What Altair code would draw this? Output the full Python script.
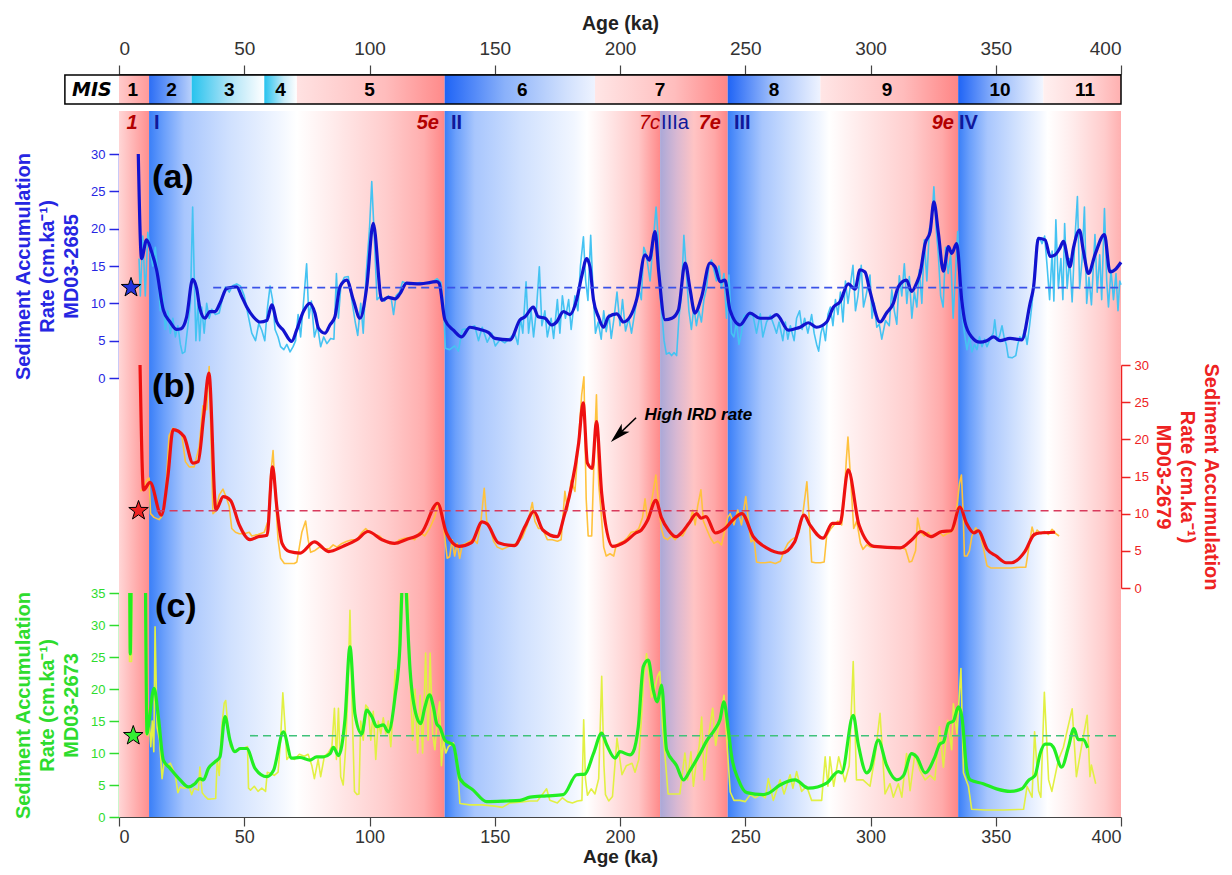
import math
import altair as alt
import pandas as pd

# ---------------- layout constants (plot area in px) ----------------
W, H = 1002, 743

# ---------------- data ----------------
AGE_TICKS = list(range(0, 401, 50))

MIS_NAMES = ["1", "2", "3", "4", "5", "6", "7", "8", "9", "10", "11"]
MIS_START = [0, 12, 29, 58, 71, 130, 190, 243, 280, 335, 369]
MIS_END = [12, 29, 58, 71, 130, 190, 243, 280, 335, 369, 400]
MIS_LABEL_X = [5.5, 21, 44, 64.5, 100, 161, 216, 261.5, 306.6, 351.7, 385.6]

BAND_START = [0, 12, 130, 216, 243, 335]
BAND_END = [12, 130, 216, 243, 335, 400]

TERM_LABELS = ["I", "II", "III", "IV"]
TERM_X = [14, 132.5, 245.5, 335.3]
SUB_LABELS = ["5e", "7e", "9e"]
SUB_X = [127.7, 240.3, 333.3]
ONE_LABEL_X = [5.2]
SUB7C_X = [216.0]
IIIA_X = [216.4]

A_MEAN = 12.1
B_MEAN = 10.4
C_MEAN = 12.7
A_MEAN_START, B_MEAN_START, C_MEAN_START = 37.6, 15.0, 52.3
A_STAR = (4.8, 12.1)
B_STAR = (7.8, 10.4)
C_STAR = (5.7, 12.7)

A_DARK = [(7.7,30),(9.0,16.0),(11.0,18.5),(13.0,16.9),(15.0,14.5),(17.7,9.1),(20.4,7.5),(23.0,6.5),(24.8,6.6),(27.0,8.2),(29.4,13.2),(31.0,12.0),(32.3,9.3),(34.3,8.0),(36.3,8.9),(38.3,8.9),(40.3,10.0),(43.0,12.0),(47.0,12.2),(49.0,10.9),(51.0,9.5),(53.6,8.2),(56.3,7.5),(59.0,7.7),(61.0,9.8),(63.0,7.5),(65.6,6.4),(68.9,4.9),(70.9,6.4),(73.6,8.9),(76.2,10.0),(78.2,8.7),(79.6,6.7),(82.2,6.0),(84.2,7.1),(86.2,8.2),(88.2,12.2),(90.9,13.1),(93.6,10.4),(96.2,8.0),(98.9,12.2),(101.5,20.7),(104.9,10.4),(107.5,10.8),(110.2,10.6),(112.2,11.3),(114.8,12.7),(120.2,12.6),(126.8,12.9),(127.8,12.7),(130.1,7.8),(133.5,6.4),(136.8,5.5),(140.1,6.8),(144.1,6.5),(147.4,6.1),(150.1,5.3),(156.1,5.1),(160.1,7.8),(162.1,8.2),(165.4,9.5),(167.4,8.2),(170.1,8.0),(172.7,7.1),(174.7,7.5),(177.4,8.9),(180.0,8.5),(182.7,10.5),(184.7,13.6),(186.7,16.0),(188.0,14.9),(189.4,10.5),(191.4,8.2),(193.4,6.8),(195.4,8.2),(198.7,8.6),(201.4,7.5),(204.0,8.2),(206.7,10.6),(210.0,16.5),(211.7,15.8),(214.0,19.6),(215.4,14.4),(218.0,7.8),(220.7,8.0),(223.3,9.1),(226.0,15.4),(228.0,11.8),(229.9,8.7),(232.6,10.9),(235.9,15.4),(237.9,14.9),(239.9,12.9),(241.9,13.1),(243.9,9.1),(247.9,7.1),(251.9,8.7),(255.9,8.0),(259.9,8.0),(262.5,8.5),(267.2,6.4),(269.9,6.6),(271.9,6.8),(275.2,7.4),(278.5,6.8),(282.5,7.5),(285.2,9.5),(287.8,10.2),(291.1,12.6),(293.8,11.9),(295.8,14.5),(297.8,14.2),(299.8,11.6),(303.8,7.5),(306.4,8.7),(309.1,10.0),(311.1,12.2),(314.4,13.1),(316.4,11.6),(318.4,12.7),(319.8,14.0),(321.8,18.0),(323.8,19.6),(325.3,23.6),(327.1,19.4),(329.1,14.3),(331.1,17.6),(332.4,16.7),(334.4,18.0),(336.4,10.5),(337.7,7.5),(340.4,5.5),(343.7,4.8),(346.4,5.0),(349.1,5.5),(351.7,5.0),(355.7,5.3),(360.4,5.1),(363.7,10.0),(365.1,12.2),(367.0,18.7),(369.7,18.5),(371.7,16.3),(373.7,16.5),(375.6,17.4),(377.0,18.3),(379.6,14.9),(381.0,17.4),(383.4,19.8),(385.0,17.0),(387.0,14.0),(389.6,16.5),(393.4,19.2),(395.6,14.2),(397.6,14.5),(400.0,15.5)]

A_LIGHT = [(8.0,16),(8.5,11),(9.5,19),(10.5,11),(11.5,19.5),(12.5,17),(13.5,15),(14.5,17.5),(15.5,14),(16.5,9),(17.5,11),(18.5,6.5),(19.5,9),(20.5,6),(21.5,8),(22.5,5.5),(23.5,7),(24.5,4.5),(25.3,3.3),(26.3,3.5),(27.5,7),(28.5,10),(29.4,22.9),(30.0,14),(30.7,5),(31.5,10),(32.2,5),(33.0,9.5),(34.0,6),(35.0,10),(36.0,8),(37.0,9.2),(38.5,8.5),(40.0,8.7),(41.2,10.5),(42.5,12.2),(44.0,11.5),(45.5,12.4),(47.0,12.6),(48.5,12.3),(50.0,11),(51.5,8.5),(53.0,6),(54.5,5.0),(55.8,7.3),(57.0,6.4),(58.2,5.0),(59.3,9.5),(60.3,12.3),(61.3,10.5),(62.3,6.5),(63.5,5.5),(64.5,4.2),(65.8,3.8),(67.0,4.5),(68.3,3.5),(69.5,4.2),(70.5,5.0),(71.5,8.5),(72.5,5.5),(73.5,9.5),(74.9,15.3),(75.8,8.0),(76.8,10.3),(78.0,5.5),(79.2,7.0),(80.5,4.2),(81.7,5.5),(83.0,4.6),(84.5,5.3),(85.8,5.2),(86.8,14.0),(87.6,8.0),(88.6,12.5),(90.0,13.5),(91.5,13.6),(93.0,10.3),(94.3,7.5),(95.3,5.7),(96.5,10.0),(97.5,6.0),(98.7,14.0),(100.0,20.0),(100.9,26.3),(101.9,19.0),(103.0,10.5),(104.5,11.0),(106.0,10.3),(107.5,11.0),(108.7,10.6),(109.6,8.5),(110.6,11.0),(112.0,11.5),(113.2,12.9),(116.0,12.5),(120.0,12.8),(124.0,12.6),(127.0,13.3),(128.5,12.8),(129.5,10),(130.3,4.0),(132.0,3.8),(134.0,4.3),(135.5,3.6),(137.0,6.5),(139.0,6.6),(140.5,6.8),(142.0,7.0),(143.5,5.0),(145.0,6.8),(147.0,4.8),(148.8,6.0),(150.2,4.3),(152.0,5.1),(154.0,4.7),(156.0,5.3),(158.0,6.0),(159.2,4.5),(160.3,8.0),(161.2,6.0),(162.5,12.9),(163.5,6.0),(164.5,9.0),(165.5,5.5),(166.6,9.0),(167.8,14.9),(168.8,7.0),(170.0,9.0),(171.0,5.5),(172.5,8.0),(173.5,5.3),(175.0,10.5),(176.0,6.0),(177.0,11.0),(178.2,8.0),(179.5,10.5),(180.5,6.5),(182.0,11.0),(183.2,9.0),(184.2,15.0),(185.4,18.9),(186.3,13.0),(187.2,10.4),(188.3,19.1),(189.2,12.0),(190.2,6.0),(191.3,7.5),(192.5,5.2),(193.5,9.0),(194.5,6.2),(195.6,8.5),(196.5,5.3),(197.6,8.0),(198.8,11.5),(200.0,7.0),(201.0,10.5),(202.2,6.3),(203.5,8.0),(204.6,6.0),(206.0,9.0),(207.5,12.0),(208.5,10.5),(209.5,17.5),(210.5,16.5),(212.0,13.0),(213.2,18.0),(214.4,22.9),(215.2,19.0),(216.0,11.0),(217.0,7.5),(217.6,5.0),(218.5,3.2),(219.6,3.4),(220.6,3.0),(221.6,3.4),(222.6,3.0),(223.5,8.0),(224.5,11.0),(225.5,19.1),(226.5,14.0),(227.5,9.0),(228.5,6.5),(229.5,9.5),(230.5,7.0),(231.5,9.0),(232.5,7.5),(233.5,10.5),(234.5,12.0),(235.5,15.0),(236.5,15.8),(237.5,14.5),(238.5,13.0),(239.5,15.0),(240.5,12.0),(241.5,14.0),(242.5,8.0),(243.5,13.8),(244.5,6.0),(245.5,5.5),(246.5,7.5),(247.5,4.5),(248.5,6.0),(249.5,8.4),(251.0,8.2),(253.0,8.5),(254.5,6.0),(256.0,8.6),(257.0,5.5),(258.5,7.5),(260.0,8.4),(261.5,7.0),(262.5,6.0),(263.5,7.5),(265.0,5.0),(266.0,7.5),(267.0,5.2),(268.0,7.0),(269.5,5.0),(270.5,8.0),(271.7,9.0),(272.7,6.5),(273.7,8.0),(275.0,6.0),(276.5,8.5),(277.5,6.0),(278.5,4.5),(279.3,3.6),(280.2,6.0),(281.0,7.0),(282.0,5.0),(283.0,8.5),(284.0,9.5),(285.0,7.0),(286.0,10.5),(287.0,8.5),(288.0,11.5),(289.0,7.5),(290.0,13.0),(291.0,10.0),(293.0,15.1),(294.0,9.0),(295.0,11.0),(296.3,15.1),(297.2,9.5),(298.2,11.0),(299.8,13.8),(300.6,8.0),(301.5,10.0),(302.5,6.8),(303.5,7.2),(304.5,5.2),(306.0,7.7),(307.5,7.0),(308.5,11.8),(309.5,9.0),(310.5,7.2),(311.5,13.7),(312.5,11.0),(313.5,15.3),(314.5,10.0),(315.5,13.6),(316.5,8.0),(317.5,11.5),(318.5,9.5),(319.5,14.5),(320.5,10.0),(321.5,18.5),(322.5,13.0),(323.5,20.0),(324.5,21.0),(325.3,25.6),(326.2,20.0),(327.0,17.0),(328.0,11.0),(329.0,9.5),(330.0,17.5),(331.0,14.0),(332.0,16.5),(333.0,8.0),(334.0,14.5),(334.8,19.6),(335.6,14.0),(336.5,9.0),(337.5,6.0),(338.5,3.8),(339.5,5.5),(340.5,3.5),(341.5,4.5),(342.5,3.8),(343.5,5.5),(344.5,4.2),(345.5,5.2),(346.5,4.2),(347.5,5.0),(349.0,6.0),(349.6,7.8),(350.5,5.0),(351.5,5.6),(352.5,7.0),(353.3,5.5),(354.2,4.5),(355.0,2.8),(356.5,2.7),(358.0,3.0),(358.8,4.5),(359.6,5.5),(360.5,5.2),(361.5,6.5),(362.5,4.5),(363.5,7.0),(364.5,10.0),(365.5,14.0),(366.5,18.5),(367.5,18.8),(368.5,18.0),(369.5,19.0),(370.5,15.0),(371.5,10.5),(372.5,17.0),(373.2,10.3),(374.0,21.2),(375.0,12.0),(376.0,16.0),(376.8,10.5),(377.5,20.7),(378.5,12.0),(379.5,16.0),(380.5,10.2),(381.5,18.0),(382.6,24.3),(383.5,12.0),(384.5,16.0),(385.4,22.9),(386.3,10.0),(387.2,13.5),(388.2,9.8),(389.6,19.2),(390.5,11.5),(391.5,16.5),(392.3,10.5),(393.4,22.7),(394.3,13.0),(395.0,9.5),(396.0,14.5),(397.0,10.5),(398.0,14.0),(398.8,9.0),(399.5,13.0),(400.0,12.5)]

B_DARK = [(8.4,30.0),(9.8,13.2),(12.4,14.2),(16.9,9.8),(19.5,15.0),(21.6,21.3),(25.9,20.4),(29.5,16.8),(31.6,17.0),(33.8,23.1),(35.9,28.9),(38.7,10.5),(41.6,12.3),(44.5,11.8),(48.0,8.5),(52.3,6.5),(55.5,6.9),(59.1,7.1),(61.3,16.3),(63.0,10.9),(65.1,6.0),(68.0,4.9),(72.3,4.7),(78.0,6.2),(83.7,4.9),(89.4,5.6),(95.0,6.5),(99.4,7.6),(105.0,6.5),(110.0,6.0),(114.5,6.5),(120.7,7.4),(127.2,11.4),(130.7,7.4),(135.7,5.6),(140.7,6.1),(145.0,8.9),(147.0,8.6),(151.4,6.1),(157.8,5.7),(162.1,8.3),(165.6,10.3),(169.2,7.8),(174.9,6.9),(177.8,9.8),(180.6,13.6),(183.5,19.5),(185.3,24.9),(187.0,16.8),(188.9,16.1),(190.6,22.4),(192.7,12.7),(197.0,5.6),(202.0,6.2),(206.3,7.4),(208.5,7.8),(211.0,9.1),(214.3,11.8),(216.5,9.5),(219.3,7.8),(222.3,6.9),(225.0,7.6),(227.5,8.7),(230.6,10.0),(232.3,9.4),(234.3,9.6),(238.1,7.4),(241.9,8.0),(244.9,9.1),(248.7,10.0),(253.2,6.9),(258.5,5.4),(264.5,4.7),(269.7,6.2),(273.5,9.8),(275.8,8.5),(281.0,6.7),(284.8,8.7),(287.8,8.7),(291.1,15.9),(295.4,8.5),(301.4,5.6),(311.9,5.4),(316.5,6.5),(320.2,7.6),(324.0,6.9),(328.5,7.6),(332.2,7.7),(335.7,10.9),(338.3,8.7),(341.3,7.4),(343.0,7.7),(346.6,5.2),(350.2,4.3),(354.1,3.4),(356.3,3.4),(361.6,4.9),(365.4,7.2),(367.6,7.4),(373.7,7.5)]

B_LIGHT = [(8.6,13.0),(9.5,13.4),(11.0,14.5),(12.0,14.8),(12.6,10.0),(14.0,9.5),(16.0,9.2),(17.0,9.6),(18.5,12.0),(20.0,20.5),(21.5,21.5),(23.0,21.3),(25.0,20.8),(26.5,17.0),(28.0,16.3),(30.0,16.3),(32.0,19.0),(33.5,24.5),(35.0,24.0),(36.0,29.8),(37.5,10.0),(38.5,10.3),(40.0,12.5),(41.5,13.3),(43.0,12.0),(44.0,11.0),(45.0,8.0),(46.5,7.5),(48.0,7.3),(50.0,7.3),(52.0,7.5),(53.0,7.0),(55.5,7.2),(58.0,7.5),(59.5,9.0),(60.5,15.0),(61.5,18.5),(62.5,12.0),(63.5,6.5),(64.5,4.0),(66.0,3.3),(68.0,3.3),(70.0,3.3),(71.0,3.5),(72.0,5.5),(73.0,7.5),(74.5,9.0),(75.5,6.5),(76.5,4.8),(78.0,5.0),(80.0,5.5),(82.0,5.2),(84.0,5.3),(85.5,5.8),(87.0,5.5),(89.0,6.0),(91.0,6.3),(93.0,6.5),(95.0,6.5),(97.0,7.5),(98.5,8.0),(100.0,7.5),(102.0,7.2),(104.0,7.0),(106.0,6.3),(108.0,6.0),(110.0,5.9),(112.0,6.5),(114.0,6.7),(116.0,6.8),(118.0,6.5),(120.0,7.5),(122.0,7.0),(124.0,8.0),(126.0,9.5),(127.5,11.5),(129.0,10.0),(130.0,7.0),(131.0,4.0),(132.0,4.2),(133.0,6.5),(134.0,4.3),(135.0,6.0),(136.0,4.0),(137.0,5.8),(138.5,6.0),(140.0,6.3),(141.5,6.6),(143.0,6.0),(144.5,9.0),(145.8,13.4),(146.8,9.0),(148.0,8.3),(149.5,6.3),(151.0,5.5),(153.0,5.2),(155.0,5.5),(157.0,5.8),(159.0,6.0),(161.0,6.8),(163.0,8.5),(165.0,11.5),(166.0,9.0),(167.5,8.0),(169.0,8.0),(171.0,6.5),(173.0,6.5),(175.0,6.3),(176.5,6.5),(178.0,13.0),(179.0,10.5),(180.5,14.5),(182.0,13.0),(183.5,20.0),(184.7,26.0),(185.6,28.4),(186.5,12.0),(187.3,7.0),(188.7,7.0),(189.7,18.0),(190.6,26.0),(191.5,14.0),(192.5,10.0),(193.5,5.5),(194.5,4.3),(196.0,4.6),(197.5,4.3),(198.5,5.8),(200.0,6.1),(201.5,6.3),(203.0,6.8),(204.5,7.5),(206.0,7.6),(207.5,8.0),(209.0,9.5),(210.0,12.0),(211.0,9.0),(212.3,11.0),(213.5,13.5),(214.3,15.2),(215.5,11.0),(216.5,8.0),(217.5,6.8),(219.0,6.5),(220.5,7.0),(222.0,6.5),(223.5,7.2),(225.0,7.0),(226.5,8.0),(228.0,9.0),(229.0,10.5),(230.0,8.5),(231.0,11.0),(232.3,13.2),(233.3,9.0),(234.5,8.0),(236.0,6.8),(237.5,6.0),(239.0,6.3),(240.5,5.8),(242.0,8.0),(243.0,9.5),(244.0,10.0),(245.5,8.5),(247.0,10.5),(248.5,8.5),(250.2,12.3),(251.3,9.0),(252.3,6.2),(253.5,6.5),(254.5,3.5),(256.0,3.4),(258.0,3.4),(260.0,3.5),(262.0,3.3),(264.0,3.6),(265.5,5.0),(267.0,6.0),(268.5,6.5),(270.0,6.8),(271.5,7.5),(273.0,10.0),(274.6,14.3),(275.6,9.0),(276.5,3.5),(278.0,3.4),(280.0,3.4),(281.5,3.5),(282.5,7.0),(284.0,7.9),(285.5,8.5),(287.0,9.0),(288.5,8.5),(289.5,12.0),(290.3,17.0),(291.0,20.3),(292.0,15.0),(293.3,8.0),(294.5,9.0),(296.0,6.0),(297.0,5.2),(298.5,5.8),(300.0,5.5),(302.0,5.5),(304.0,5.6),(306.0,5.4),(308.0,5.5),(310.0,5.3),(312.0,5.5),(314.0,5.2),(315.5,3.5),(316.5,3.6),(318.0,5.0),(318.8,9.4),(320.0,7.5),(321.5,7.0),(323.0,7.5),(324.5,6.8),(326.0,7.2),(327.5,7.5),(329.0,7.0),(330.5,7.3),(332.0,7.5),(333.5,8.0),(334.5,11.0),(335.5,14.0),(336.3,15.2),(337.0,10.0),(337.5,4.3),(338.5,4.3),(339.5,5.0),(340.5,7.0),(342.0,8.1),(343.5,7.5),(345.0,5.5),(346.5,3.0),(348.0,2.7),(352.0,2.7),(356.0,2.7),(360.0,2.8),(362.0,2.8),(363.0,5.0),(364.5,8.2),(365.5,7.0),(366.5,7.8),(368.0,7.3),(369.5,7.6),(371.0,7.2),(372.5,7.9),(374.0,7.3),(375.3,7.0)]

# (None, None) marks a gap where the curve leaves the top of the axis
C_DARK = [(4.3,35),(4.5,25.5),(4.8,35),(None,None),(10.6,35),(11.2,13.0),(11.7,14.1),(14.0,20.1),(15.7,15.7),(17.7,8.9),(20.4,7.6),(24.4,5.8),(27.7,4.7),(30.3,5.2),(32.3,6.0),(33.7,5.8),(35.7,7.6),(38.3,8.6),(40.3,9.4),(42.3,15.7),(44.3,12.0),(46.3,10.2),(48.3,10.7),(51.0,10.7),(54.3,7.6),(59.0,6.3),(61.7,7.3),(65.6,13.3),(68.9,9.2),(72.2,9.3),(76.2,8.9),(78.9,9.4),(81.6,9.4),(84.3,9.9),(85.6,10.9),(87.6,9.6),(90.2,15.2),(92.2,26.6),(94.2,16.1),(96.9,13.0),(98.9,16.7),(100.9,15.7),(102.9,14.1),(105.5,14.4),(107.5,13.3),(110.2,18.8),(112.2,27.1),(112.9,35),(None,None),(114.7,35),(116.2,23.0),(118.8,15.7),(120.5,14.6),(122.0,17.0),(124.0,19.1),(125.5,17.2),(126.8,14.6),(128.1,14.0),(130.1,12.0),(133.5,11.2),(136.1,6.0),(141.4,4.2),(146.8,2.4),(154.8,2.5),(160.1,2.6),(164.1,3.1),(170.7,3.3),(177.4,3.5),(182.7,6.6),(186.0,6.7),(189.4,9.9),(192.7,13.1),(194.7,11.3),(198.0,9.2),(200.0,10.2),(204.0,9.7),(205.3,10.2),(207.3,14.1),(209.3,23.5),(211.3,24.5),(213.3,19.8),(214.9,18.0),(216.6,20.6),(218.6,10.5),(222.6,8.0),(225.3,5.8),(228.0,7.3),(231.9,9.9),(234.6,11.9),(237.9,13.7),(239.9,15.2),(241.5,18.0),(243.3,13.4),(244.6,9.4),(247.3,5.8),(250.6,3.8),(257.2,3.5),(259.2,3.7),(263.9,5.0),(269.9,5.8),(275.2,4.5),(282.5,5.3),(287.2,7.1),(288.5,6.9),(293.1,15.9),(295.1,11.4),(298.5,6.9),(299.8,7.4),(303.1,12.0),(306.4,8.1),(310.5,5.8),(313.2,6.5),(316.4,9.9),(318.4,9.4),(321.8,6.9),(325.7,9.4),(327.7,11.4),(329.1,11.7),(331.1,14.6),(333.1,15.0),(335.1,17.2),(336.5,15.6),(338.4,7.4),(339.8,5.8),(345.0,5.2),(350.3,4.4),(355.7,4.0),(360.4,4.4),(363.0,5.7),(365.7,6.5),(367.7,9.9),(369.7,11.4),(371.7,11.4),(373.0,10.9),(376.3,7.8),(379.0,10.9),(381.2,13.8),(382.9,12.1),(384.9,12.1),(386.7,10.8)]

C_LIGHT = [(4.0,35),(4.2,24.3),(5.0,24.3),(5.2,35),(None,None),(10.3,35),(10.7,13.0),(11.5,12.7),(12.0,15.5),(12.7,11.0),(13.3,15.0),(13.9,10.2),(14.4,29.7),(15.2,14.0),(16.2,12.0),(17.2,6.0),(18.0,8.5),(19.0,8.0),(20.5,8.4),(21.5,7.5),(22.5,6.5),(23.5,3.8),(24.5,4.7),(26.0,4.5),(28.0,4.7),(29.0,3.5),(30.0,4.5),(31.0,4.3),(31.7,4.2),(32.3,7.8),(33.2,3.8),(34.2,3.3),(35.5,2.8),(36.5,2.8),(38.6,2.9),(39.2,9.0),(40.0,6.5),(41.0,14.0),(42.0,17.8),(42.6,18.2),(43.5,14.0),(44.5,11.0),(46.0,10.3),(48.0,10.5),(50.0,10.8),(51.3,11.0),(51.7,4.5),(52.5,4.2),(54.0,4.8),(55.5,4.0),(57.0,4.5),(58.5,4.0),(59.2,7.0),(60.5,6.8),(62.0,6.5),(63.5,7.0),(64.5,12.0),(65.4,19.4),(66.3,14.0),(67.0,9.0),(68.0,9.5),(70.0,9.0),(72.0,9.8),(74.0,9.5),(75.5,9.8),(77.0,8.0),(78.0,6.0),(79.5,9.0),(80.5,6.3),(82.0,9.5),(83.5,10.0),(85.0,11.0),(86.0,17.0),(86.8,9.0),(87.6,17.0),(88.5,6.3),(89.5,5.0),(90.5,11.0),(91.4,20.0),(92.2,32.3),(93.2,15.0),(94.0,4.0),(95.0,3.5),(95.8,3.6),(96.5,15.0),(97.5,12.0),(98.5,17.5),(99.5,17.0),(100.5,12.0),(101.5,16.5),(102.5,9.0),(103.5,15.0),(104.5,13.0),(105.5,15.5),(106.5,13.0),(107.5,15.0),(108.5,11.0),(109.5,17.0),(110.2,23.0),(111.0,20.0),(111.8,27.0),(112.4,35),(None,None),(115.3,35),(116.2,22.0),(117.2,12.0),(118.2,20.0),(119.2,10.0),(120.2,19.0),(121.2,10.0),(122.4,25.6),(123.4,12.0),(124.2,25.6),(125.2,13.0),(126.1,10.5),(127.0,15.0),(128.0,18.0),(128.7,8.0),(129.5,12.0),(130.5,10.0),(131.5,11.0),(133.5,11.6),(135.0,9.0),(136.1,2.1),(140.0,1.9),(145.0,1.9),(150.0,1.7),(153.0,1.5),(156.0,2.2),(160.0,2.3),(164.0,2.5),(167.0,2.5),(169.0,3.5),(170.7,4.4),(172.0,2.6),(175.0,2.2),(177.0,3.0),(179.0,2.4),(181.0,2.2),(183.0,2.5),(184.8,2.6),(185.5,15.2),(186.2,6.0),(187.0,3.4),(188.5,4.4),(190.0,3.6),(191.5,6.0),(192.7,22.0),(193.6,8.0),(194.2,3.5),(195.5,2.5),(197.0,3.2),(198.8,12.3),(200.8,6.6),(202.5,8.0),(204.8,8.4),(206.0,7.0),(207.5,9.0),(208.5,15.0),(209.5,22.0),(210.6,25.5),(211.6,22.0),(212.6,18.7),(213.8,20.0),(215.0,22.0),(215.9,22.7),(217.0,14.0),(217.9,10.0),(219.2,3.6),(221.5,3.6),(223.9,3.6),(225.9,10.0),(227.0,5.8),(228.3,10.2),(229.3,4.8),(230.6,9.0),(231.6,11.0),(232.6,15.6),(233.6,5.8),(234.8,11.0),(235.9,14.1),(237.0,17.0),(238.2,11.2),(239.5,14.6),(241.5,19.0),(242.6,12.1),(244.0,3.9),(245.5,2.6),(247.9,2.6),(250.0,2.4),(252.0,3.5),(254.0,3.0),(256.0,3.5),(258.0,3.0),(259.2,6.0),(261.2,2.6),(263.9,5.8),(265.5,3.6),(267.9,6.6),(269.0,4.5),(270.5,7.1),(272.5,4.0),(274.5,4.8),(276.5,2.6),(280.5,2.6),(281.9,9.4),(283.0,4.8),(283.8,9.4),(285.3,4.8),(287.3,9.4),(289.8,5.5),(291.5,8.0),(293.1,24.3),(294.4,5.8),(297.0,5.8),(299.8,4.8),(301.8,9.4),(303.8,16.2),(305.8,3.6),(307.8,5.2),(309.1,3.1),(311.1,5.2),(312.5,3.1),(314.4,9.9),(315.8,4.1),(317.7,9.9),(319.7,7.3),(321.8,5.8),(323.8,6.5),(325.7,5.8),(327.5,14.1),(329.1,7.8),(330.8,15.1),(332.4,10.5),(333.1,17.7),(334.5,13.0),(336.1,23.2),(337.1,6.9),(339.1,4.8),(340.4,1.2),(345.8,1.1),(353.0,1.1),(361.1,1.2),(362.5,4.8),(364.5,3.1),(365.5,13.3),(367.1,4.1),(368.0,3.1),(369.4,19.5),(371.1,5.8),(372.4,4.0),(375.0,8.9),(377.0,10.9),(380.5,16.9),(382.2,6.3),(384.2,10.9),(386.5,15.9),(387.6,6.3),(388.2,8.1),(389.9,5.2)]

# annotation in panel (b) coordinates
IRD_TEXT_POS = (209.8, 23.3)
ARROW_TAIL = (206.4, 22.9)
ARROW_HEAD = (199.3, 20.6)

# ---------------- styles ----------------
FONT = "Liberation Sans"
CA, CB, CC = "#2626e2", "#ee2222", "#2edc2e"
DARK_RED, NAVY = "#b30000", "#10189a"

BLUE0, BLUE1, BLUE2, BLUE3, BLUE4 = "#3a7ff8", "#6a9ffb", "#a8c6fd", "#cfe0fe", "#f1f6ff"
BAND_STOPS = [
    [(0, "#ffd6d6"), (1, "#ff8f8f")],
    [(0, BLUE0), (0.05, BLUE1), (0.12, BLUE2), (0.27, BLUE3), (0.44, BLUE4), (0.5, "#ffffff"),
     (0.6, "#ffefef"), (0.8, "#ffcdcd"), (0.93, "#ffaeae"), (1, "#ff8686")],
    [(0, BLUE0), (0.05, BLUE1), (0.14, BLUE2), (0.35, BLUE3), (0.6, BLUE4), (0.66, "#ffffff"),
     (0.75, "#ffeaea"), (0.9, "#ffc6c6"), (1, "#ff8a8a")],
    [(0, "#aaa8d8"), (0.25, "#d9b8d2"), (0.5, "#ffc4c4"), (0.8, "#ffa8a8"), (1, "#ff8686")],
    [(0, BLUE0), (0.06, BLUE1), (0.15, BLUE2), (0.28, BLUE3), (0.4, BLUE4), (0.44, "#ffffff"),
     (0.55, "#ffeeee"), (0.8, "#ffcccc"), (0.93, "#ffaaaa"), (1, "#ff8686")],
    [(0, BLUE0), (0.07, BLUE1), (0.18, BLUE2), (0.35, BLUE3), (0.5, BLUE4), (0.55, "#ffffff"),
     (0.7, "#ffecec"), (0.9, "#ffcccc"), (1, "#ffb0b0")],
]
MIS_STOPS = [
    [(0, "#ffcaca"), (1, "#ff9a9a")],
    [(0, "#2c6ef5"), (0.5, "#6f9ef8"), (1, "#b9d0fb")],
    [(0, "#27c3ee"), (0.5, "#a9e2f6"), (1, "#ffffff")],
    [(0, "#27c3ee"), (0.6, "#c7ebf8"), (1, "#ffffff")],
    [(0, "#ffe2e2"), (0.6, "#ffbcbc"), (1, "#ff8a8a")],
    [(0, "#1f64f6"), (0.4, "#8ab1fa"), (0.8, "#cfdffd"), (1, "#eef3ff")],
    [(0, "#ffe6e6"), (0.6, "#ffbdbd"), (1, "#ff8686")],
    [(0, "#1f64f6"), (0.5, "#a3c1fb"), (1, "#eef3ff")],
    [(0, "#ffe6e6"), (0.6, "#ffbcbc"), (1, "#ff8686")],
    [(0, "#1f64f6"), (0.5, "#9fbffb"), (1, "#f2f6ff")],
    [(0, "#fff0f0"), (0.6, "#ffd4d4"), (1, "#ffb0b0")],
]

# vertical placement (px within plot area)
BAND_TOP, BAND_BOT = 37, H
MIS_TOP, MIS_BOT, MIS_MID = 1, 30, 16
SUBLABEL_Y = 49
MIS_BOX_LEFT = -21.6  # ka, left edge of the "MIS" caption box

XS = alt.Scale(domain=[0, 400], nice=False, zero=False)


def xenc(field="x"):
    return alt.X(f"{field}:Q", scale=XS, axis=None)


def grad(stops):
    return alt.LinearGradient(
        gradient="linear",
        stops=[alt.GradientStop(color=c, offset=o) for o, c in stops],
        x1=0, x2=1, y1=0, y2=0,
    )


def series_df(pairs):
    rows, seg = [], 0
    for i, (x, v) in enumerate(pairs):
        if x is None:
            seg += 1
            continue
        rows.append({"x": x, "v": v, "seg": seg, "i": i})
    return pd.DataFrame(rows)


def star_path():
    pts = []
    for k in range(10):
        r = 1.0 if k % 2 == 0 else 0.4
        a = -math.pi / 2 + k * math.pi / 5
        pts.append(f"{r * math.cos(a):.3f},{r * math.sin(a):.3f}")
    return "M" + " L".join(pts) + " Z"


STAR = star_path()
ARROWHEAD = "M0,-1 L0.55,1 L0,0.5 L-0.55,1 Z"

layers = []

# ---------- background climate bands ----------
for s, e, st in zip(BAND_START, BAND_END, BAND_STOPS):
    layers.append(
        alt.Chart(pd.DataFrame({"s": [s], "e": [e]}))
        .mark_rect(fill=grad(st), opacity=1, strokeWidth=0)
        .encode(x=xenc("s"), x2="e:Q", y=alt.value(BAND_TOP), y2=alt.value(BAND_BOT))
    )

# ---------- MIS bar ----------
layers.append(
    alt.Chart(pd.DataFrame({"s": [MIS_BOX_LEFT], "e": [0]}))
    .mark_rect(fill="white", opacity=1)
    .encode(x=xenc("s"), x2="e:Q", y=alt.value(MIS_TOP), y2=alt.value(MIS_BOT))
)
for s, e, st in zip(MIS_START, MIS_END, MIS_STOPS):
    layers.append(
        alt.Chart(pd.DataFrame({"s": [s], "e": [e]}))
        .mark_rect(fill=grad(st), opacity=1, strokeWidth=0)
        .encode(x=xenc("s"), x2="e:Q", y=alt.value(MIS_TOP), y2=alt.value(MIS_BOT))
    )
layers.append(
    alt.Chart(pd.DataFrame({"s": [MIS_BOX_LEFT], "e": [400]}))
    .mark_rect(fillOpacity=0, stroke="black", strokeWidth=1.5)
    .encode(x=xenc("s"), x2="e:Q", y=alt.value(MIS_TOP), y2=alt.value(MIS_BOT))
)
layers.append(
    alt.Chart(pd.DataFrame({"x": MIS_LABEL_X, "t": MIS_NAMES}))
    .mark_text(font=FONT, fontSize=19, fontWeight="bold", color="black", baseline="middle")
    .encode(x=xenc(), y=alt.value(MIS_MID), text="t:N")
)
layers.append(
    alt.Chart(pd.DataFrame({"x": [MIS_BOX_LEFT / 2], "t": ["MIS"]}))
    .mark_text(font="DejaVu Sans", fontSize=19, fontWeight="bold", fontStyle="italic",
               color="black", baseline="middle")
    .encode(x=xenc(), y=alt.value(MIS_MID), text="t:N")
)

# ---------- labels under the MIS bar ----------
def label_layer(xs, texts, color, align, weight, style):
    return (
        alt.Chart(pd.DataFrame({"x": xs, "t": texts}))
        .mark_text(font=FONT, fontSize=20, fontWeight=weight, fontStyle=style,
                   color=color, align=align, baseline="middle")
        .encode(x=xenc(), y=alt.value(SUBLABEL_Y), text="t:N")
    )


layers.append(label_layer(ONE_LABEL_X, ["1"], DARK_RED, "center", "bold", "italic"))
layers.append(label_layer(SUB_X, SUB_LABELS, DARK_RED, "right", "bold", "italic"))
layers.append(label_layer(SUB7C_X, ["7c"], DARK_RED, "right", "normal", "italic"))
layers.append(label_layer(TERM_X, TERM_LABELS, NAVY, "left", "bold", "normal"))
layers.append(label_layer(IIIA_X, ["IIIa"], NAVY, "left", "normal", "normal"))


# ---------- data panels ----------
def y_axis(orient, dmax, color, title, title_x, title_y, angle):
    return alt.Axis(
        orient=orient, values=list(range(0, dmax + 1, 5)), grid=False,
        tickSize=10 if orient == "left" else 9, tickWidth=1.5, tickColor=color,
        domainColor=color, domainWidth=1.5,
        labelFont=FONT, labelFontSize=13, labelColor=color, labelPadding=4,
        title=title, titleFont=FONT, titleFontSize=20, titleFontWeight="bold",
        titleColor=color, titleAngle=angle, titleX=title_x, titleY=title_y,
        titleAlign="center", titleBaseline="middle", titleLineHeight=24,
    )


def panel(dark, light, dark_col, light_col, mean_col, mean_v, mean_start, star, star_col,
          label, label_pos, yenc, extra=None):
    light_df = series_df(light)
    dark_df = series_df(dark)
    parts = [
        alt.Chart(light_df).mark_line(color=light_col, strokeWidth=1.6, strokeJoin="round")
        .encode(x=xenc(), y=yenc, detail="seg:N", order="i:Q"),
        alt.Chart(dark_df).mark_line(color=dark_col, strokeWidth=3.2, strokeJoin="round",
                                     interpolate="monotone")
        .encode(x=xenc(), y=yenc, detail="seg:N", order="i:Q"),
        alt.Chart(pd.DataFrame({"x": [mean_start], "x2": [400], "v": [mean_v]}))
        .mark_rule(color=mean_col, strokeWidth=1.6, strokeDash=[8, 5])
        .encode(x=xenc(), x2="x2:Q", y=yenc),
        alt.Chart(pd.DataFrame({"x": [star[0]], "v": [star[1]]}))
        .mark_point(shape=STAR, size=420, filled=True, fill=star_col, stroke="black",
                    strokeWidth=1, opacity=1)
        .encode(x=xenc(), y=yenc),
        alt.Chart(pd.DataFrame({"x": [label_pos[0]], "v": [label_pos[1]], "t": [label]}))
        .mark_text(font=FONT, fontSize=34, fontWeight="bold", color="black",
                   align="left", baseline="middle")
        .encode(x=xenc(), y=yenc, text="t:N"),
    ]
    if extra:
        parts += extra(yenc)
    return alt.layer(*parts)


YA = alt.Y("v:Q", scale=alt.Scale(domain=[0, 30], range=[304, 80], nice=False, zero=False),
           axis=y_axis("left", 30, CA, ["Sediment Accumulation", "Rate (cm.ka⁻¹)", "MD03-2685"],
                       -96, 192, 270))
YB = alt.Y("v:Q", scale=alt.Scale(domain=[0, 30], range=[514, 291], nice=False, zero=False),
           axis=y_axis("right", 30, CB, ["Sediment Accumulation", "Rate (cm.ka⁻¹)", "MD03-2679"],
                       89, 402.5, 90))
YC = alt.Y("v:Q", scale=alt.Scale(domain=[0, 35], range=[743, 519], nice=False, zero=False),
           axis=y_axis("left", 35, CC, ["Sediment Accumulation", "Rate (cm.ka⁻¹)", "MD03-2673"],
                       -96, 631, 270))


def ird_annotation(yenc):
    return [
        alt.Chart(pd.DataFrame({"x": [ARROW_TAIL[0]], "x2": [ARROW_HEAD[0]],
                                "v": [ARROW_TAIL[1]], "v2": [ARROW_HEAD[1]]}))
        .mark_rule(color="black", strokeWidth=1.6)
        .encode(x=xenc(), x2="x2:Q", y=yenc, y2="v2:Q"),
        alt.Chart(pd.DataFrame({"x": [ARROW_HEAD[0]], "v": [ARROW_HEAD[1]]}))
        .mark_point(shape=ARROWHEAD, size=420, angle=226, filled=True, fill="black",
                    opacity=1, strokeWidth=0)
        .encode(x=xenc(), y=yenc),
        alt.Chart(pd.DataFrame({"x": [IRD_TEXT_POS[0]], "v": [IRD_TEXT_POS[1]],
                                "t": ["High IRD rate"]}))
        .mark_text(font=FONT, fontSize=17, fontWeight="bold", fontStyle="italic",
                   color="black", align="left", baseline="middle")
        .encode(x=xenc(), y=yenc, text="t:N"),
    ]


layers.append(panel(C_DARK, C_LIGHT, "#22ee22", "#e2f043", "#3fc27a", C_MEAN, C_MEAN_START,
                    C_STAR, "#33ee33", "(c)", (14.4, 32.8), YC))
layers.append(panel(B_DARK, B_LIGHT, "#ee1111", "#ffc23d", "#d83a5c", B_MEAN, B_MEAN_START,
                    B_STAR, "#ee2222", "(b)", (13.2, 27.0), YB, extra=ird_annotation))
layers.append(panel(A_DARK, A_LIGHT, "#1212cf", "#45c3f2", "#3a52e8", A_MEAN, A_MEAN_START,
                    A_STAR, "#2233dd", "(a)", (13.2, 26.8), YA))

# ---------- age axes (bottom and top) ----------
def age_axis(orient):
    bottom = orient == "bottom"
    return alt.Axis(
        orient=orient, values=AGE_TICKS, grid=False, title="Age (ka)",
        tickSize=9, tickColor="#444", tickWidth=1.2, domainColor="#444", domainWidth=1.2,
        labelFont=FONT, labelFontSize=18 if bottom else 19, labelColor="#333",
        labelPadding=2 if bottom else 7,
        titleFont=FONT, titleFontSize=19 if bottom else 19.5, titleFontWeight="bold",
        titleColor="#222", titlePadding=1 if bottom else 6,
    )


for orient in ["bottom", "top"]:
    layers.append(
        alt.Chart(pd.DataFrame({"x": [0]}))
        .mark_rule(opacity=0)
        .encode(x=alt.X("x:Q", scale=XS, axis=age_axis(orient)))
    )

chart = (
    alt.layer(*layers)
    .resolve_scale(y="independent")
    .resolve_axis(x="independent", y="independent")
    .properties(
        width=W, height=H,
        autosize=alt.AutoSizeParams(type="none"),
        padding={"left": 111, "top": 66, "right": 103, "bottom": 51},
    )
    .configure_view(strokeWidth=0)
)

chart.save("out.html", embed_options={"renderer": "svg", "actions": False})
